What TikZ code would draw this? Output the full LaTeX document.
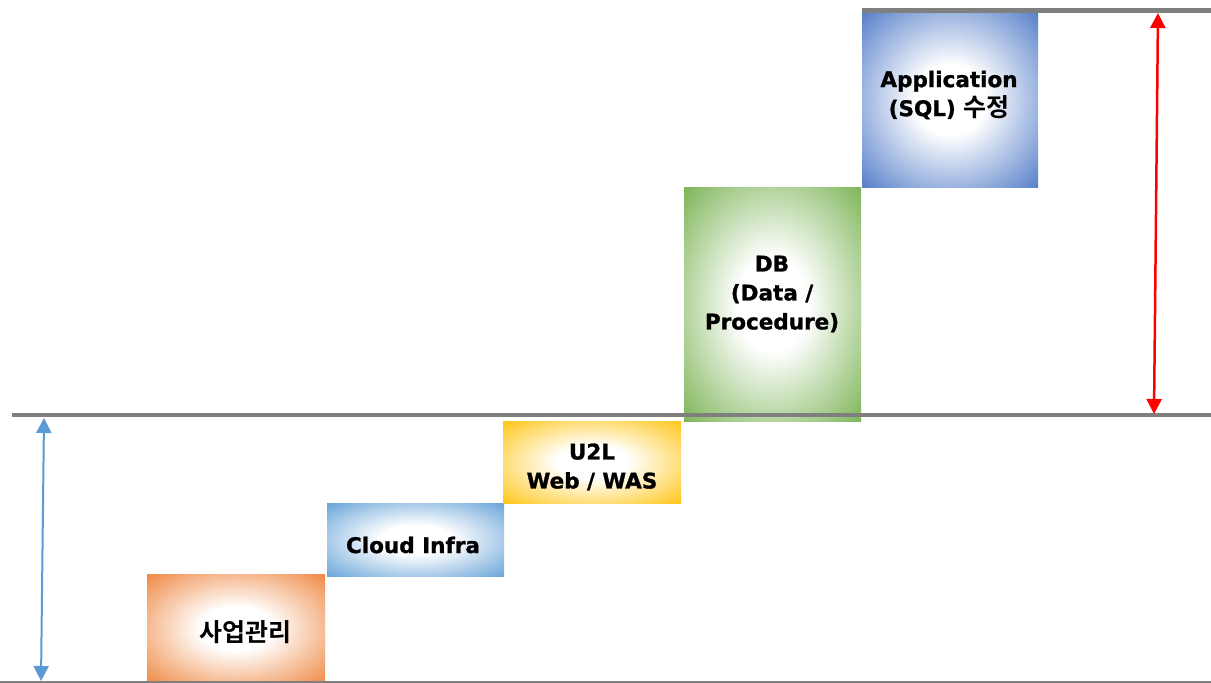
\documentclass[tikz,border=0pt]{standalone}
\usepackage{fontspec}
\setmainfont{DejaVu Sans}[BoldFeatures={FakeBold=1.2}]
\newfontfamily\kr{Noto Sans CJK KR}[BoldFont={* Bold}]
\usetikzlibrary{arrows.meta}
\definecolor{cOrange}{HTML}{ED7D31}
\definecolor{cBlueL}{HTML}{5B9BD5}
\definecolor{cGold}{HTML}{FFC000}
\definecolor{cGreen}{HTML}{70AD47}
\definecolor{cBlueD}{HTML}{4472C4}
\definecolor{cLine}{HTML}{7F7F7F}
\definecolor{cRed}{HTML}{FF0000}
\pgfdeclareradialshading{shOrange}{\pgfpoint{0bp}{0bp}}{color(0bp)=(white); color(10bp)=(white); color(38bp)=(cOrange); color(50bp)=(cOrange)}
\pgfdeclareradialshading{shBlueL}{\pgfpoint{0bp}{0bp}}{color(0bp)=(white); color(10bp)=(white); color(38bp)=(cBlueL); color(50bp)=(cBlueL)}
\pgfdeclareradialshading{shGold}{\pgfpoint{0bp}{0bp}}{color(0bp)=(white); color(10bp)=(white); color(38bp)=(cGold); color(50bp)=(cGold)}
\pgfdeclareradialshading{shGreen}{\pgfpoint{0bp}{0bp}}{color(0bp)=(white); color(10bp)=(white); color(38bp)=(cGreen); color(50bp)=(cGreen)}
\pgfdeclareradialshading{shBlueD}{\pgfpoint{0bp}{0bp}}{color(0bp)=(white); color(10bp)=(white); color(38bp)=(cBlueD); color(50bp)=(cBlueD)}
\tikzset{
  stairbox/.style={rectangle, inner sep=0pt, anchor=north west},
  stairtext/.style={font=\fontsize{21.5}{29}\selectfont\bfseries, align=center, inner sep=0pt, text=black},
  krtext/.style={font=\fontsize{25}{29}\selectfont\kr\bfseries},
  level/.style={draw=cLine},
  span/.style={{Triangle[width=15pt,length=15pt]}-{Triangle[width=15pt,length=15pt]}},
}
\begin{document}
\begin{tikzpicture}[x=1pt,y=-1pt]
\useasboundingbox (0,0) rectangle (1211,683);
% boxes
\node[stairbox, shading=shOrange, minimum width=178pt, minimum height=109pt] (b1) at (147,574) {};
\node[stairbox, shading=shBlueL, minimum width=177pt, minimum height=73pt] (b2) at (327,503) {};
\node[stairbox, shading=shGold, minimum width=178pt, minimum height=82pt] (b3) at (503,421) {};
\node[stairbox, shading=shGreen, minimum width=177pt, minimum height=234pt] (b4) at (684,187) {};
\node[stairbox, shading=shBlueD, minimum width=176pt, minimum height=175pt] (b5) at (862,12) {};
% level lines
\draw[level, line width=5pt] (862,10) -- (1211,10);
\draw[level, line width=4pt] (12,415) -- (1211,415);
\draw[level, line width=3pt] (0,682) -- (1211,682);
% texts
\node[stairtext, krtext] (t1) at (245,632) {사업관리};
\node[stairtext] (t2) at (413,545) {Cloud Infra};
\node[stairtext] (t3) at (592,467) {U2L\\Web / WAS};
\node[stairtext] (t4) at (772,294) {DB\\(Data /\\Procedure)};
\node[stairtext] (t5) at (949,95) {Application\\(SQL) {\fontsize{25}{29}\selectfont\kr\bfseries 수정}};
% arrows
\coordinate (a1) at (44,418);
\coordinate (a2) at (41,681);
\coordinate (r1) at (1158,13);
\coordinate (r2) at (1154,414);
\draw[span, draw=cBlueL, fill=cBlueL, line width=2pt] (a1) -- (a2);
\draw[span, draw=cRed, fill=cRed, line width=2.5pt] (r1) -- (r2);
\end{tikzpicture}
\end{document}
